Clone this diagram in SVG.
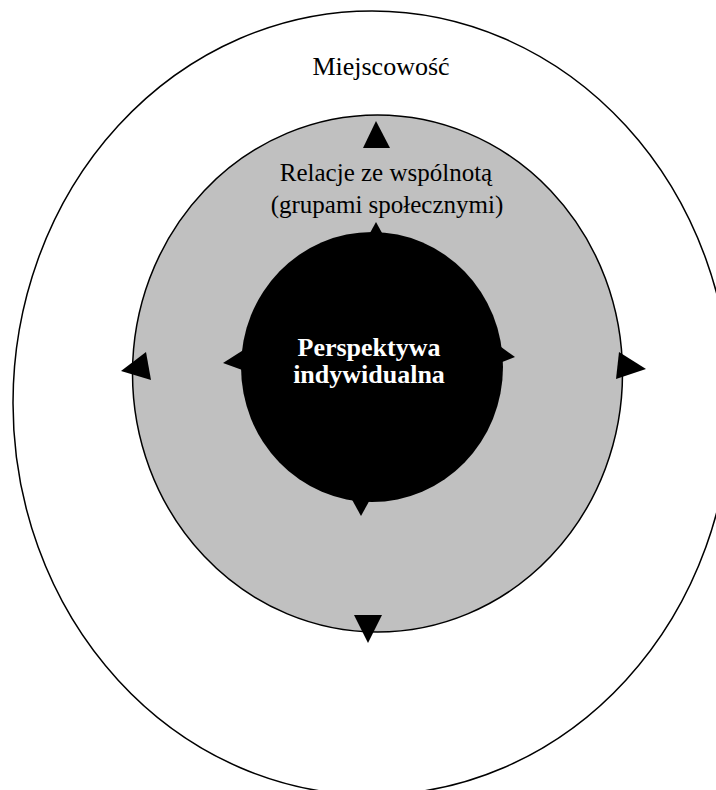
<svg xmlns="http://www.w3.org/2000/svg" width="716" height="790" viewBox="0 0 716 790">
<style>
.lbl{font-family:"Liberation Serif","Times New Roman",serif;font-size:26px;fill:#000;text-anchor:middle}
.lbl2{font-family:"Liberation Serif","Times New Roman",serif;font-size:25px;fill:#000;text-anchor:middle}
.inner{font-family:"Liberation Serif","Times New Roman",serif;font-size:26px;font-weight:bold;fill:#fff;text-anchor:middle}
.tri{fill:#000;stroke:none}
</style>
<rect width="716" height="790" fill="#fff"/>
<g id="miejscowosc">
<ellipse cx="372" cy="403" rx="359" ry="392" fill="#fff" stroke="#000" stroke-width="1.5"/>
<text class="lbl" x="381" y="75">Miejscowość</text>
</g>
<g id="wspolnota">
<ellipse cx="377.5" cy="373.5" rx="245" ry="258.5" fill="#c0c0c0" stroke="#000" stroke-width="1.5"/>
<text class="lbl2" x="386" y="181">Relacje ze wspólnotą</text>
<text class="lbl2" x="387" y="213">(grupami społecznymi)</text>
</g>
<g id="connectors">
<polygon class="tri" points="376,121 363,148 390,148"/>
<polygon class="tri" points="368,643 354,615 382,615"/>
<polygon class="tri" points="121,371 146,352 151,380"/>
<polygon class="tri" points="646,369 619,352 616,379"/>
<polygon class="tri" points="376,222 365,242 387,242"/>
<polygon class="tri" points="361,516 350,496 372,496"/>
<polygon class="tri" points="223,363 245,349 245,371"/>
<polygon class="tri" points="515,357 497,344 497,364"/>
</g>
<g id="perspektywa">
<ellipse cx="372" cy="367" rx="131" ry="135" fill="#000"/>
<text class="inner" x="369" y="356">Perspektywa</text>
<text class="inner" x="369" y="383">indywidualna</text>
</g>
</svg>
